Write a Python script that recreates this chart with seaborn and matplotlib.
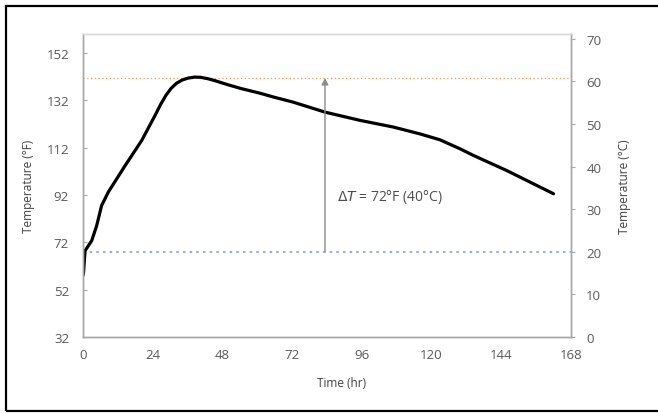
import numpy as np
import pandas as pd
import seaborn as sns
from matplotlib import pyplot as plt
from matplotlib.patches import Rectangle

sns.set_style("white")
plt.rcParams['font.family'] = ['Open Sans', 'DejaVu Sans']

# curve: time (hr) vs temperature (F)
time_hr = [0.0, 0.2, 0.7, 3.0, 4.7, 6.4, 8.7, 14.5, 20.2, 24.8, 26.7, 28.5, 30.3,
           32.2, 34.2, 36.3, 38.5, 40.5, 43.0, 45.4, 49.5, 54.6, 60.9, 65.5, 72.4,
           83.3, 95.4, 106.8, 116.0, 122.9, 129.8, 134.4, 145.9, 162.0]
temp_f = [58.0, 59.5, 68.4, 72.7, 79.0, 87.5, 93.2, 104.4, 115.0, 125.6, 130.2, 134.0,
          137.0, 139.2, 140.6, 141.4, 141.8, 141.7, 141.1, 140.3, 138.7, 136.9, 135.0,
          133.4, 131.2, 127.0, 123.5, 120.7, 117.8, 115.3, 111.5, 108.7, 102.3, 92.5]

ambient_f = 68.0
peak_f = 141.5
arrow_time = 83.3
delta_label = r"$\Delta T$ = 72°F (40°C)"

x_ticks = [0, 24, 48, 72, 96, 120, 144, 168]
f_ticks = [32, 52, 72, 92, 112, 132, 152]
c_ticks = [0, 10, 20, 30, 40, 50, 60, 70]

df = pd.DataFrame({'Time (hr)': time_hr, 'Temperature (°F)': temp_f})

grey = '#595959'
W, H = 658, 414
fig = plt.figure(figsize=(W / 100, H / 100), dpi=100)
ax = fig.add_axes([83 / W, 1 - 338 / H, (571 - 83) / W, (338 - 35) / H])

ax.axhline(peak_f, color='#F19A5E', ls=(0, (1, 2)), lw=0.9)
ax.axhline(ambient_f, color='#7F9FD8', ls=(0, (1.5, 2.5)), lw=1.2)
sns.lineplot(data=df, x='Time (hr)', y='Temperature (°F)', ax=ax, color='black',
             lw=2.3, sort=False)
ax.annotate('', xy=(arrow_time, peak_f), xytext=(arrow_time, ambient_f),
            arrowprops=dict(arrowstyle='-|>', color='#8c8c8c', lw=1.0,
                            shrinkA=0, shrinkB=0, mutation_scale=10))
ax.text(arrow_time + 4, 91.5, delta_label, color='#4d4d4d', fontsize=10, va='center')

ax.set_xlim(0, 168)
ax.set_ylim(32, 160)
ax.set_xticks(x_ticks)
ax.set_yticks(f_ticks)
ax.tick_params(axis='both', direction='in', length=3, colors='#a6a6a6',
               labelcolor=grey, labelsize=9.5)
ax.tick_params(axis='y', pad=10)
ax.tick_params(axis='x', pad=8)
ax.set_xlabel('Time (hr)', fontsize=8.5, color='#404040')
ax.set_ylabel('Temperature (°F)', fontsize=8.5, color='#404040', labelpad=8)
ax.xaxis.set_label_coords((342 - 83) / 488, -0.13)

ax2 = ax.twinx()
ax2.set_ylim(0, (160 - 32) / 1.8)
ax2.set_yticks(c_ticks)
ax2.tick_params(axis='y', direction='out', length=3, colors='#a6a6a6',
                labelcolor=grey, labelsize=9.5, pad=8)
ax2.set_ylabel('Temperature (°C)', fontsize=8.5, color='#404040', labelpad=12)

for a in (ax, ax2):
    for side in ('left', 'bottom', 'right'):
        a.spines[side].set_color('#a6a6a6')
        a.spines[side].set_linewidth(1.0)
    a.spines['top'].set_color('#d9d9d9')
    a.spines['top'].set_linewidth(1.0)

fig.patches.append(Rectangle((6 / W, 1 - 412 / H), 1.0, (412 - 7) / H,
                             transform=fig.transFigure, fill=False,
                             edgecolor='black', lw=1.6, clip_on=False))

fig.savefig('out.png', dpi=100)
